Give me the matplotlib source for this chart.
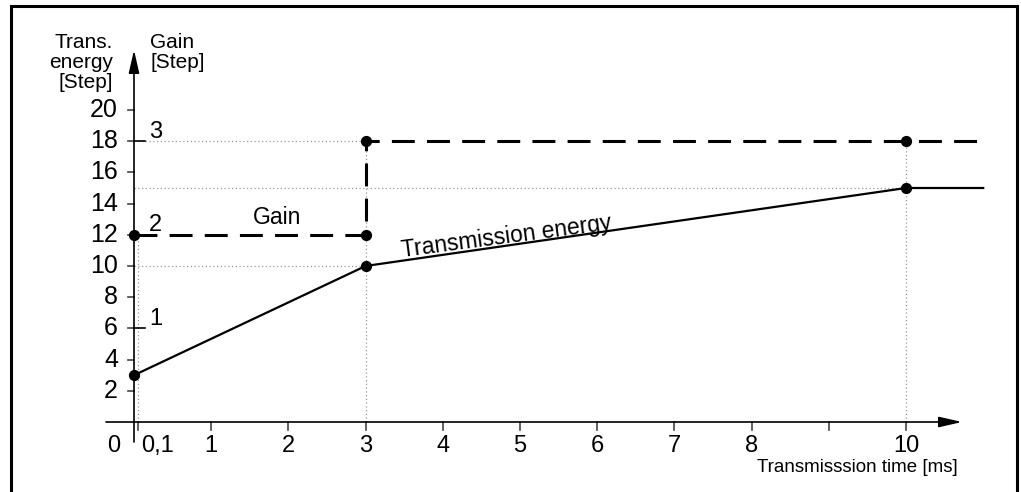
import matplotlib.pyplot as plt
from matplotlib.patches import Rectangle

plt.rcParams['font.family'] = ['Liberation Sans', 'DejaVu Sans']

# data
energy_t = [0, 3, 10, 11.0]
energy_v = [3, 10, 15, 15]
gain_t = [0, 3, 3, 11.0]
gain_v = [12, 12, 18, 18]
energy_dots_t = [0, 3, 10]
energy_dots_v = [3, 10, 15]
gain_dots_t = [0, 3, 3, 10]
gain_dots_v = [12, 12, 18, 18]

x_ticks = [0.05, 1, 2, 3, 4, 5, 6, 7, 8, 9, 10]
x_labels = ['0,1', '1', '2', '3', '4', '5', '6', '7', '8', '', '10']
y_ticks = [2, 4, 6, 8, 10, 12, 14, 16, 18, 20]
gain_steps = [1, 2, 3]
gain_levels = [6, 12, 18]

W, H = 1021, 492
fig = plt.figure(figsize=(W / 100, H / 100), dpi=100)
ax = fig.add_axes([0, 0, 1, 1])
ax.set_axis_off()

# pixel -> data mapping: x=0 at px 134, 77.2 px/ms; y=0 at px 422 from top, 15.6 px/step
sx, sy = 77.2, 15.6
x0, y0 = 134, H - 422
ax.set_xlim(-x0 / sx, (W - x0) / sx)
ax.set_ylim(-y0 / sy, (H - y0) / sy)

# frame
fig.patches.append(Rectangle((11 / W, -0.05), (1017 - 11) / W, (H - 6) / H + 0.05,
                             transform=fig.transFigure, fill=False, lw=2.2,
                             edgecolor='black'))

dot = dict(color='#999999', lw=0.9, ls=(0, (1, 2)))
# dotted guide lines
ax.plot([0.05, 0.05], [0, 12], **dot)
ax.plot([3, 3], [0, 18], **dot)
ax.plot([10, 10], [0, 18], **dot)
ax.plot([0, 3], [18, 18], **dot)
ax.plot([0, 10], [15, 15], **dot)
ax.plot([0, 3], [10, 10], **dot)

# axes with arrows
xl, xr = -28 / sx, (962 - x0) / sx
ax.annotate('', xy=(xr, 0), xytext=(xl, 0),
            arrowprops=dict(arrowstyle='-|>,head_length=1.4,head_width=0.32',
                            color='black', lw=1.2, shrinkA=0, shrinkB=0))
yt = (422 - 50) / sy
ax.annotate('', xy=(0, yt), xytext=(0, -20 / sy),
            arrowprops=dict(arrowstyle='-|>,head_length=1.4,head_width=0.32',
                            color='black', lw=1.2, shrinkA=0, shrinkB=0))

# x ticks
for t, lab in zip(x_ticks, x_labels):
    ax.plot([t, t], [0, -8 / sy], color='#444444', lw=1.2)
    if lab:
        ax.text(t + (0.25 if lab == '0,1' else 0), -24 / sy, lab, ha='center', va='center',
                fontsize=17)
ax.text(-20 / sx, -24 / sy, '0', ha='center', va='center', fontsize=17)

# y ticks (energy, left)
for v in y_ticks:
    ax.plot([-6 / sx, 0], [v, v], color='#444444', lw=1.2)
    ax.text(-16 / sx, v, str(v), ha='right', va='center', fontsize=18)

# gain ticks (right)
for s, v in zip(gain_steps, gain_levels):
    ax.plot([0, 11 / sx], [v, v], color='black', lw=1.2)
    ax.text(15 / sx, v - 0.1, str(s), ha='left', va='bottom', fontsize=17)

# axis labels
ax.text(-21 / sx, (422 - 33) / sy, 'Trans.\nenergy\n[Step]', ha='right', va='top',
        fontsize=15, linespacing=1.05)
ax.text(16 / sx, (422 - 33) / sy, 'Gain\n[Step]', ha='left', va='top',
        fontsize=15, linespacing=1.05)
ax.text((958 - x0) / sx, -46 / sy, 'Transmisssion time [ms]', ha='right', va='center',
        fontsize=13.5)

# series
ax.plot(gain_t, gain_v, color='black', lw=2.2, ls=(0, (7.5, 4)), zorder=3)
ax.plot(energy_t, energy_v, color='black', lw=1.6, zorder=3)
ax.scatter(energy_dots_t, energy_dots_v, s=50, color='black', zorder=4)
ax.scatter(gain_dots_t, gain_dots_v, s=50, color='black', zorder=4)

ax.text(1.85, 12.4, 'Gain', ha='center', va='bottom', fontsize=16.5)
ax.text(4.82, 11.9, 'Transmission energy', ha='center', va='center', fontsize=16.5,
        rotation=7.5)

fig.savefig('out.png', dpi=100)
